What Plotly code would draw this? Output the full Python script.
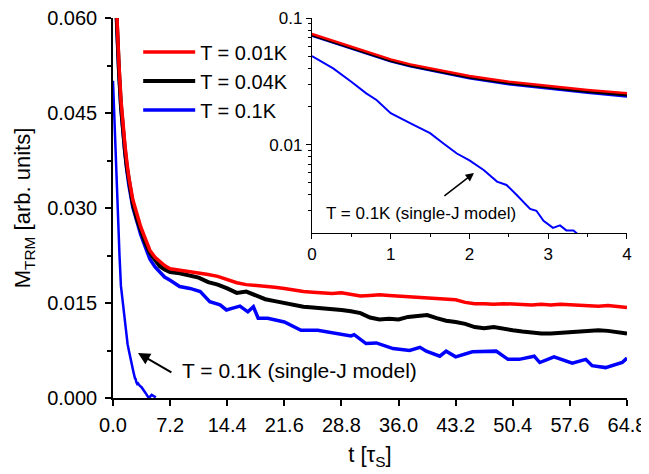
import plotly.graph_objects as go

# ---- data ----
t_early = [0, 0.25, 0.5, 0.75, 1.0, 1.25, 1.5, 1.75, 2.0, 2.5, 3.0, 3.5, 4.0, 4.66, 5.3, 5.9, 6.5]
t_late = [7.2, 8.4, 9.6, 10.8, 12.0, 13.2, 14.4, 15.6, 16.8, 18.0, 19.2, 20.4, 21.6, 22.8, 24.0,
          25.2, 26.4, 27.6, 28.8, 30.0, 31.2, 32.4, 33.6, 34.8, 36.0, 37.2, 38.4, 39.6, 40.8, 42.0,
          43.2, 44.4, 45.6, 46.8, 48.0, 49.2, 50.4, 51.6, 52.8, 54.0, 55.2, 56.4, 57.6, 58.8, 60.0,
          61.2, 62.4, 63.6, 64.8]

red_early = [0.0748, 0.0665, 0.0593, 0.0527, 0.0471, 0.0430, 0.0400, 0.0372, 0.0348, 0.0313, 0.0290,
             0.0270, 0.0254, 0.0233, 0.0222, 0.0215, 0.0209]
red_late = [0.0204, 0.0202, 0.0200, 0.0197, 0.0195, 0.0192, 0.0187, 0.0182, 0.0179, 0.0178, 0.0176,
            0.0175, 0.0173, 0.0170, 0.0168, 0.0167, 0.0166, 0.0165, 0.0166, 0.0163, 0.0161, 0.0162,
            0.0163, 0.0162, 0.0161, 0.0160, 0.0158, 0.0157, 0.0157, 0.0155, 0.0155, 0.0151, 0.0149,
            0.0149, 0.0148, 0.0149, 0.0148, 0.0148, 0.0147, 0.0148, 0.0147, 0.0148, 0.0147, 0.0147,
            0.0146, 0.0145, 0.0146, 0.0145, 0.0143]

black_early = [0.0734, 0.0652, 0.0581, 0.0517, 0.0462, 0.0422, 0.0392, 0.0364, 0.0341, 0.0306, 0.0283,
               0.0263, 0.0247, 0.0229, 0.0218, 0.0208, 0.0203]
black_late = [0.0199, 0.0197, 0.0194, 0.0190, 0.0183, 0.0179, 0.0173, 0.0166, 0.0168, 0.0162, 0.0156,
              0.0153, 0.0150, 0.0147, 0.0144, 0.0143, 0.0142, 0.0140, 0.0139, 0.0137, 0.0134, 0.0127,
              0.0124, 0.0125, 0.0124, 0.0128, 0.0130, 0.0131, 0.0126, 0.0122, 0.0120, 0.0117, 0.0112,
              0.0110, 0.0112, 0.0109, 0.0107, 0.0105, 0.0103, 0.0102, 0.0102, 0.0103, 0.0104, 0.0104,
              0.0105, 0.0107, 0.0106, 0.0104, 0.0102]

blue_early = [0.0728, 0.0647, 0.0576, 0.0512, 0.0457, 0.0417, 0.0387, 0.0359, 0.0336, 0.0301, 0.0278,
              0.0258, 0.0241, 0.0219, 0.0207, 0.0198, 0.0191]
blue_late_t = [7.2, 8.4, 9.7, 11.0, 11.6, 12.2, 13.5, 14.3, 15.1, 16.0, 17.0, 17.7, 18.3, 19.5, 21.6,
               23.7, 25.8, 27.9, 30.0, 30.4, 31.1, 31.9, 33.2, 35.3, 37.4, 38.7, 39.5, 41.2, 42.0,
               43.2, 45.3, 47.9, 48.3, 49.8, 51.2, 53.1, 53.8, 55.6, 57.9, 59.6, 60.4, 62.1, 62.9,
               64.2, 64.8]
blue_late = [0.0186, 0.0176, 0.0173, 0.0168, 0.0160, 0.0152, 0.0147, 0.0139, 0.0142, 0.0145, 0.0136,
             0.0144, 0.0126, 0.0126, 0.0120, 0.0107, 0.0107, 0.0102, 0.0098, 0.0100, 0.0094, 0.0086,
             0.0087, 0.0078, 0.0075, 0.0080, 0.0074, 0.0066, 0.0074, 0.0065, 0.0073, 0.0075, 0.0074,
             0.0061, 0.0061, 0.0066, 0.0056, 0.0065, 0.0055, 0.0061, 0.0051, 0.0048, 0.0051, 0.0056,
             0.0063]

sj_t = [0, 0.27, 0.5, 0.69, 0.82, 1.0, 1.29, 1.5, 1.67, 1.84, 2.0, 2.18, 2.35, 2.47, 2.6, 2.77, 2.85,
        2.94, 3.06, 3.15, 3.23, 3.32, 3.4, 3.6, 3.8, 4.1, 4.4, 4.6, 4.87, 5.1, 5.4]
sj_m = [0.0501, 0.0400, 0.0314, 0.0254, 0.0225, 0.0177, 0.0143, 0.0123, 0.0102, 0.0085, 0.0075,
        0.0063, 0.0051, 0.0048, 0.0040, 0.0031, 0.0030, 0.0025, 0.0022, 0.0023, 0.0021, 0.0021,
        0.0019, 0.0017, 0.0014, 0.0008, 0.0002, 0.0001, 0.0005, 0.0003, 0.0001]

labels = ["T = 0.01K", "T = 0.04K", "T = 0.1K"]
x_ticks = [0.0, 7.2, 14.4, 21.6, 28.8, 36.0, 43.2, 50.4, 57.6, 64.8]
x_ticktext = ["0.0", "7.2", "14.4", "21.6", "28.8", "36.0", "43.2", "50.4", "57.6", "64.8"]
y_ticks = [0.000, 0.015, 0.030, 0.045, 0.060]
y_ticktext = ["0.000", "0.015", "0.030", "0.045", "0.060"]
inset_yticks = [0.01, 0.1]
inset_yticktext = ["0.01", "0.1"]
annot_text = "T = 0.1K (single-J model)"

RED, BLACK, BLUE = "#ff0000", "#000000", "#0000ff"
FONT = "Arial, Liberation Sans, sans-serif"

red_t = t_early + t_late
red_m = red_early + red_late
black_t = t_early + t_late
black_m = black_early + black_late
blue_t = t_early + blue_late_t
blue_m = blue_early + blue_late

fig = go.Figure()
# main panel
fig.add_trace(go.Scatter(x=sj_t, y=sj_m, mode="lines", line=dict(color=BLUE, width=2.5),
                         showlegend=False, xaxis="x", yaxis="y"))
fig.add_trace(go.Scatter(x=blue_t, y=blue_m, mode="lines", line=dict(color=BLUE, width=3.5),
                         name=labels[2], xaxis="x", yaxis="y"))
fig.add_trace(go.Scatter(x=black_t, y=black_m, mode="lines", line=dict(color=BLACK, width=4),
                         name=labels[1], xaxis="x", yaxis="y"))
fig.add_trace(go.Scatter(x=red_t, y=red_m, mode="lines", line=dict(color=RED, width=3.5),
                         name=labels[0], xaxis="x", yaxis="y"))
# inset
fig.add_trace(go.Scatter(x=sj_t, y=sj_m, mode="lines", line=dict(color=BLUE, width=2),
                         showlegend=False, xaxis="x2", yaxis="y2"))
fig.add_trace(go.Scatter(x=blue_t, y=blue_m, mode="lines", line=dict(color=BLUE, width=3),
                         showlegend=False, xaxis="x2", yaxis="y2"))
fig.add_trace(go.Scatter(x=black_t, y=black_m, mode="lines", line=dict(color=BLACK, width=3),
                         showlegend=False, xaxis="x2", yaxis="y2"))
fig.add_trace(go.Scatter(x=red_t, y=red_m, mode="lines", line=dict(color=RED, width=2.5),
                         showlegend=False, xaxis="x2", yaxis="y2"))

axis_common = dict(showline=True, linecolor="black", linewidth=1.5, showgrid=False, zeroline=False,
                   ticks="outside", tickcolor="black", tickwidth=1.5, mirror=False, automargin=False,
                   ticklabeloverflow="allow")

# the page body adds an 8 px offset; margins compensate so the plot area lands where the reference has it
fig.update_layout(
    width=649, height=474,
    margin=dict(l=105, r=30, t=10, b=84),
    paper_bgcolor="white", plot_bgcolor="rgba(0,0,0,0)",
    font=dict(family=FONT, color="black", size=20),
    xaxis=dict(domain=[0, 1], range=[0, 64.8], tickvals=x_ticks, ticktext=x_ticktext, ticklen=6,
               tickfont=dict(size=20), anchor="y", ticklabelstandoff=2,
               title=dict(text="t [τ<sub>S</sub>]", font=dict(size=22), standoff=12), **axis_common),
    yaxis=dict(domain=[0, 1], range=[0, 0.060], tickvals=y_ticks, ticktext=y_ticktext, ticklen=6,
               tickfont=dict(size=20), anchor="x", ticklabelstandoff=4,
               minor=dict(tickvals=[0.0075, 0.0225, 0.0375, 0.0525], ticks="outside", ticklen=4,
                          tickcolor="black", tickwidth=1.5),
               title=dict(text="M<sub>TRM</sub> [arb. units]", font=dict(size=22), standoff=10),
               **axis_common),
    xaxis2=dict(domain=[0.387, 1], range=[0, 4], tickvals=[0, 1, 2, 3, 4], ticklen=5,
                tickfont=dict(size=17), anchor="y2",
                minor=dict(tickvals=[0.5, 1.5, 2.5, 3.5], ticks="outside", ticklen=3,
                           tickcolor="black", tickwidth=1),
                **{**axis_common, "linewidth": 1.2, "tickwidth": 1.2}),
    yaxis2=dict(domain=[0.434, 1], type="log", range=[-2.699, -1], tickvals=inset_yticks,
                ticktext=inset_yticktext, ticklen=5, tickfont=dict(size=17), anchor="x2",
                minor=dict(tickvals=[0.003, 0.004, 0.005, 0.006, 0.007, 0.008, 0.009,
                                     0.02, 0.03, 0.04, 0.05, 0.06, 0.07, 0.08, 0.09],
                           ticks="outside", ticklen=3, tickcolor="black", tickwidth=1),
                **{**axis_common, "linewidth": 1.2, "tickwidth": 1.2}),
    legend=dict(x=0.049, y=0.962, xanchor="left", yanchor="top", bgcolor="rgba(0,0,0,0)",
                font=dict(size=20), itemwidth=52, tracegroupgap=0, traceorder="reversed"),
    annotations=[
        dict(x=3.15, y=0.0071, ax=7.55, ay=0.0039, xref="x", yref="y", axref="x", ayref="y",
             text="", showarrow=True, arrowhead=2, arrowsize=1.2, arrowwidth=2, arrowcolor="black"),
        dict(x=8.44, y=0.00442, xref="x", yref="y", text=annot_text, showarrow=False,
             xanchor="left", yanchor="middle", font=dict(size=21)),
        dict(x=2.057, y=-2.225, ax=1.663, ay=-2.415, xref="x2", yref="y2", axref="x2", ayref="y2",
             text="", showarrow=True, arrowhead=2, arrowsize=1.1, arrowwidth=1.5, arrowcolor="black"),
        dict(x=0.152, y=-2.541, xref="x2", yref="y2", text=annot_text, showarrow=False,
             xanchor="left", yanchor="middle", font=dict(size=17)),
    ],
)

fig.write_html("out.html")
